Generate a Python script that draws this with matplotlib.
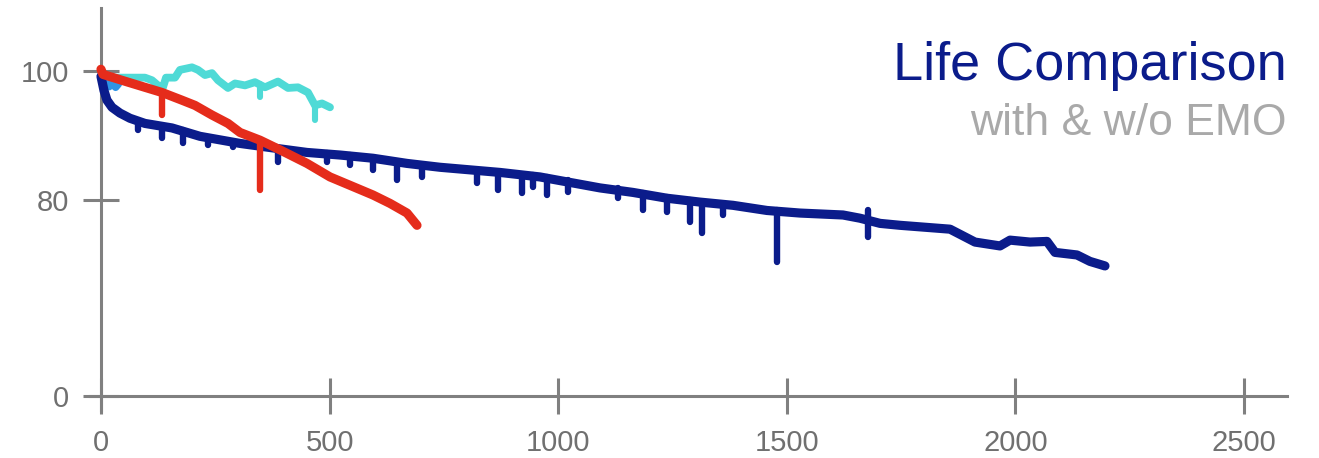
import numpy as np
import matplotlib
matplotlib.use("Agg")
import matplotlib.pyplot as plt

plt.rcParams["font.family"] = ["Liberation Sans", "DejaVu Sans"]

# capacity retention (%) against cycle count
navy_cycles = [0, 6.6, 13.1, 24.1, 41.6, 63.4, 96.2, 155.3, 216.5, 304.0, 376.2,
               450.6, 522.7, 594.9, 669.3, 741.5, 872.7, 960.2, 1091.4, 1163.6,
               1237.9, 1310.1, 1382.3, 1456.7, 1528.9, 1622.9, 1660.1, 1703.9,
               1747.6, 1857.0, 1878.9, 1911.6, 1966.3, 1988.2, 2031.9, 2069.1,
               2086.6, 2134.7, 2163.1, 2195.9]
navy_retention = [99.2, 97.0, 95.5, 94.4, 93.5, 92.7, 91.9, 91.2, 89.9, 88.8, 88.1,
                  87.4, 87.0, 86.5, 85.7, 85.1, 84.3, 83.6, 81.9, 81.2,
                  80.3, 79.7, 79.2, 78.4, 78.0, 77.7, 77.2, 76.4,
                  76.1, 75.5, 74.7, 73.5, 72.9, 73.8, 73.5, 73.6,
                  71.9, 71.5, 70.5, 69.8]
navy_dip_cycles = [81, 133, 179, 234, 289, 387, 494, 545, 595, 647, 702, 822, 868,
                   921, 945, 976, 1021, 1131, 1186, 1238, 1288, 1315, 1360, 1479, 1678]
navy_dip_top = [92.2, 91.5, 90.9, 89.6, 89.0, 87.9, 87.3, 87.0, 86.5, 85.9, 85.4, 84.7,
                84.3, 83.9, 83.9, 83.6, 83.1, 81.9, 81.1, 80.5, 80.0, 79.7, 79.4, 78.4, 78.5]
navy_dip_bottom = [90.9, 89.6, 88.8, 88.5, 88.2, 85.9, 85.9, 85.4, 84.7, 83.1, 83.6, 82.6,
                   81.6, 81.1, 82.0, 80.8, 81.2, 80.3, 78.4, 78.1, 76.6, 74.9, 77.7, 70.4, 74.3]

red_cycles = [0, 4.4, 59.1, 96.2, 133.4, 177.2, 205.6, 242.8, 277.8, 304.0, 347.8,
              391.5, 450.6, 500.9, 544.6, 594.9, 632.1, 669.3, 691.2]
red_retention = [100.3, 99.5, 98.3, 97.5, 96.7, 95.5, 94.7, 93.2, 91.9, 90.5, 89.3,
                 87.8, 85.7, 83.6, 82.3, 80.8, 79.5, 78.0, 76.1]
red_dip_cycles = [133.4, 347.8]
red_dip_top = [96.7, 89.3]
red_dip_bottom = [93.2, 81.6]

cyan_cycles = [8.7, 30.6, 96.2, 111.5, 124.7, 135.6, 142.2, 161.9, 172.8, 199.0,
               212.2, 227.5, 242.8, 255.9, 277.8, 293.1, 315.0, 336.8, 358.7,
               387.1, 409.0, 430.9, 452.8, 468.1, 483.4, 500.9]
cyan_retention = [99.4, 99.0, 99.0, 98.6, 97.8, 97.5, 99.0, 99.0, 100.2, 100.6,
                  100.2, 99.4, 99.7, 98.6, 97.4, 98.1, 97.8, 98.3, 97.5,
                  98.4, 97.4, 97.5, 96.7, 94.7, 95.0, 94.4]
cyan_dip_cycles = [347.8, 468.1]
cyan_dip_top = [98.0, 94.7]
cyan_dip_bottom = [96.0, 92.4]

blue_cycles = [2, 10, 18, 25, 32, 38]
blue_retention = [99.0, 98.3, 97.6, 98.1, 97.5, 98.0]

x_ticks = [0, 500, 1000, 1500, 2000, 2500]
y_ticks = [0, 80, 100]
title = "Life Comparison"
subtitle = "with & w/o EMO"

NAVY = "#0b1c8b"
RED = "#e52c1b"
CYAN = "#4fdad6"
BLUE = "#2e95e6"
AXIS = "#808080"

# the y axis is squeezed below 60 % so 0 sits just under the 80 mark
BREAK = 60.0
SQUEEZE = 0.173


def forward(v):
    v = np.asarray(v, dtype=float)
    return np.where(v >= BREAK, v, BREAK + (v - BREAK) * SQUEEZE)


def inverse(u):
    u = np.asarray(u, dtype=float)
    return np.where(u >= BREAK, u, BREAK + (u - BREAK) / SQUEEZE)


fig = plt.figure(figsize=(13.19, 4.58), dpi=100)
ax = fig.add_axes([90 / 1319, 1 - 410 / 458, 1197 / 1319, 402 / 458])
ax.set_yscale("function", functions=(forward, inverse))

line_kw = dict(solid_capstyle="round", solid_joinstyle="round")
ax.plot(cyan_cycles, cyan_retention, color=CYAN, lw=5.6, zorder=2, **line_kw)
ax.vlines(cyan_dip_cycles, cyan_dip_bottom, cyan_dip_top, color=CYAN, lw=4.4,
          capstyle="round", zorder=2)
ax.plot(blue_cycles, blue_retention, color=BLUE, lw=5.4, zorder=3, **line_kw)
ax.plot(navy_cycles, navy_retention, color=NAVY, lw=6.6, zorder=4, **line_kw)
ax.vlines(navy_dip_cycles, navy_dip_bottom, navy_dip_top, color=NAVY, lw=4.6,
          capstyle="round", zorder=4)
ax.plot(red_cycles, red_retention, color=RED, lw=6.6, zorder=5, **line_kw)
ax.vlines(red_dip_cycles, red_dip_bottom, red_dip_top, color=RED, lw=4.6,
          capstyle="round", zorder=5)

ax.set_xlim(-24, 2594)
ax.set_ylim(-12.5, 109.8)

for side in ["top", "right"]:
    ax.spines[side].set_visible(False)
for side in ["left", "bottom"]:
    ax.spines[side].set_position(("data", 0))
    ax.spines[side].set_color(AXIS)
    ax.spines[side].set_linewidth(2.2)

ax.set_xticks(x_ticks)
ax.set_yticks(y_ticks)
ax.minorticks_off()
ax.tick_params(axis="both", direction="inout", length=26, width=2.2, color=AXIS,
               labelcolor="#707070", labelsize=21)
ax.tick_params(axis="y", pad=10)
ax.tick_params(axis="x", pad=11)

fig.text(1287 / 1319, 1 - 80 / 458, title, ha="right", va="baseline",
         fontsize=39, color=NAVY)
fig.text(1287 / 1319, 1 - 135 / 458, subtitle, ha="right", va="baseline",
         fontsize=32, color="#a9a9a9")

fig.savefig("out.png", dpi=100)
